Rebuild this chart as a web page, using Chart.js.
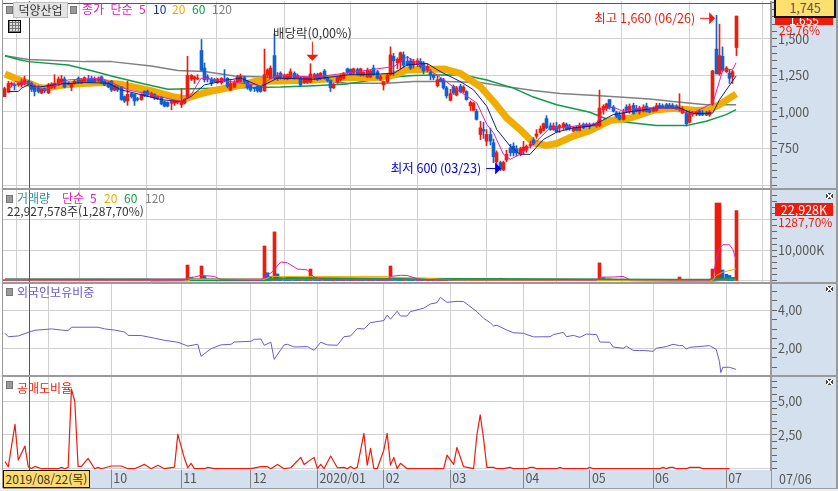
<!DOCTYPE html>
<html lang="ko">
<head>
<meta charset="utf-8">
<title>덕양산업</title>
<script src="https://cdn.jsdelivr.net/npm/chart.js@4"></script>
<style>
  html, body { margin: 0; padding: 0; background: #f0f0f0; overflow: hidden; }
  #stage { position: relative; width: 838px; height: 491px; overflow: hidden; background: #f0f0f0;
           font-family: "Noto Sans CJK KR", "Noto Sans", sans-serif; }
  canvas { position: absolute; left: 0; display: block; background: #fff; }
  .t { position: absolute; white-space: nowrap; font-size: 12px; line-height: 16px; z-index: 5; }
  .rule { position: absolute; background: #9a9a9a; z-index: 4; }
  .sq { position: absolute; width: 5px; height: 6px; background: #999; border: 1px solid #777; z-index: 5; }
  .x { position: absolute; left: 826px; width: 7px; height: 6px; z-index: 5;
       background:
         linear-gradient(45deg, transparent 44%, #fff 44% 56%, transparent 56%),
         linear-gradient(-45deg, transparent 44%, #fff 44% 56%, transparent 56%),
         #444; }
  #grid-icon { position: absolute; left: 8px; top: 20px; width: 11px; height: 11px; border: 1px solid #000; outline: 1px solid #fff; z-index: 5;
    background:
      repeating-linear-gradient(90deg, #777 0 1px, transparent 1px 3px),
      repeating-linear-gradient(0deg, #777 0 1px, transparent 1px 3px),
      #ddd; }
  #name { left: 13px; top: 2px; width: 53px; height: 14px; background: #e4e4e4; border: 1px solid #c0c0c0; text-align: center; color: #333; line-height: 14px; }
  #corner { position: absolute; left: 771px; top: 470px; width: 65px; height: 18px; background: #d5e0ee; z-index: 3; }
  #curBox { left: 774px; top: -2px; width: 58px; height: 16px; background: #ffdf6e; border: 2px solid #111; text-align: center; color: #555; z-index: 8; font-size: 12.5px; }
  #lastBox { left: 775px; top: 16px; width: 58px; height: 9px; background: #ee1c0c; color: #fff; text-align: center; line-height: 7px; z-index: 7; overflow: hidden; }
  #volBox { left: 775px; top: 203px; width: 58px; height: 13px; background: #ee1c0c; color: #fff; text-align: center; line-height: 13px; z-index: 7; font-size: 12.5px; }
  #dateBox { left: 3px; top: 470px; width: 85px; height: 16px; background: #ffdc6a; border: 1px solid #111; color: #333; text-align: center; z-index: 8; line-height: 16px; }
</style>
</head>
<body>
<div id="stage">
  <canvas id="priceChart" width="838" height="187" style="top:1px"></canvas>
  <canvas id="volumeChart" width="838" height="92" style="top:190px"></canvas>
  <canvas id="foreignChart" width="838" height="91" style="top:284px"></canvas>
  <canvas id="shortChart" width="838" height="111" style="top:377px"></canvas>

  <div class="rule" style="left:0;top:0;width:838px;height:1px;background:#fff"></div>
  <div class="rule" style="left:2px;top:0;width:1px;height:488px"></div>
  <div class="rule" style="left:3px;top:188px;width:833px;height:2px"></div>
  <div class="rule" style="left:3px;top:282px;width:833px;height:2px"></div>
  <div class="rule" style="left:3px;top:375px;width:833px;height:2px"></div>
  <div class="rule" style="left:3px;top:488px;width:833px;height:1px"></div>
  <div class="rule" style="left:836px;top:0;width:2px;height:489px"></div>
  <div id="corner"></div>
  <div class="rule" style="left:771px;top:470px;width:1px;height:18px"></div>

  <div class="sq" style="left:6px;top:6px"></div>
  <div class="t" id="name">덕양산업</div>
  <div class="sq" style="left:70px;top:6px"></div>
  <div class="t" style="left:82px;top:1px;color:#e020b0;word-spacing:3px">종가 단순 5</div>
  <div class="t" style="left:153px;top:1px;color:#1030b0">10</div>
  <div class="t" style="left:172px;top:1px;color:#f0ad00">20</div>
  <div class="t" style="left:192px;top:1px;color:#109a48">60</div>
  <div class="t" style="left:212px;top:1px;color:#808080">120</div>
  <div id="grid-icon"></div>

  <div class="sq" style="left:6px;top:195px"></div>
  <div class="t" style="left:17px;top:190px;color:#2e9090">거래량</div>
  <div class="t" style="left:62px;top:190px;color:#e020b0">단순</div>
  <div class="t" style="left:90px;top:190px;color:#e020b0">5</div>
  <div class="t" style="left:104px;top:190px;color:#f0ad00">20</div>
  <div class="t" style="left:124px;top:190px;color:#109a48">60</div>
  <div class="t" style="left:145px;top:190px;color:#808080">120</div>
  <div class="t" style="left:7px;top:203px;color:#333">22,927,578주(1,287,70%)</div>

  <div class="sq" style="left:6px;top:288px"></div>
  <div class="t" style="left:17px;top:284px;color:#6a5acd">외국인보유비중</div>
  <div class="sq" style="left:6px;top:381px"></div>
  <div class="t" style="left:17px;top:380px;color:#ee1c0c">공매도비율</div>

  <div class="x" style="top:193px"></div>
  <div class="x" style="top:286px"></div>
  <div class="x" style="top:379px"></div>

  <div class="t" id="curBox">1,745</div>
  <div class="t" id="lastBox">1,655</div>
  <div class="t" style="left:779px;top:22px;color:#ee1c0c">29,76%</div>
  <div class="t" id="volBox">22,928K</div>
  <div class="t" style="left:778px;top:214px;color:#ee1c0c">1287,70%</div>
  <div class="t" id="dateBox">2019/08/22(목)</div>
  <div class="t" style="left:779px;top:471px;color:#555;font-size:12.5px">07/06</div>
</div>

<script>
// Daily candles, one entry per trading day from 2019/08 to 2020/07/06
const opens = [
  1105,1135,1190,1185,1185,1185,1195,1210,1195,1180,
  1165,1130,1160,1130,1165,1170,1185,1205,1225,1195,
  1170,1195,1230,1200,1210,1225,1230,1225,1215,1240,
  1210,1200,1210,1150,1170,1170,1105,1075,1125,1120,
  1090,1085,1140,1140,1105,1120,1090,1100,1070,1065,
  1060,1060,1065,1050,1060,1100,1225,1225,1225,1420,
  1300,1240,1225,1215,1200,1200,1220,1230,1150,1170,
  1205,1210,1235,1205,1180,1165,1175,1165,1145,1253,
  1230,1385,1230,1265,1230,1225,1235,1265,1235,1235,
  1200,1205,1205,1235,1255,1230,1280,1235,1215,1165,
  1205,1220,1230,1295,1290,1265,1290,1250,1250,1240,
  1240,1300,1275,1225,1185,1205,1255,1380,1335,1343,
  1390,1345,1350,1320,1325,1345,1335,1285,1270,1250,
  1180,1225,1220,1165,1080,1175,1115,1175,1140,1140,
  1043,1011,1005,846,880,801,846,790,660,655,
  605,672,755,767,750,710,733,740,770,810,
  835,860,875,955,905,880,900,892,895,915,
  905,870,890,875,915,915,915,915,908,907,
  1015,1027,1085,1034,995,980,950,1034,1000,1045,
  1020,1000,1005,1040,1015,1005,1010,1045,1043,1050,
  1047,1045,1038,1020,993,993,930,985,985,1005,
  990,990,980,1055,1430,1260,1380,1275,1265,1240,
  1440];
const highs = [
  1170,1210,1205,1195,1200,1225,1245,1215,1205,1185,
  1180,1160,1165,1195,1200,1255,1240,1250,1240,1205,
  1195,1220,1240,1230,1240,1250,1245,1240,1240,1245,
  1215,1205,1215,1185,1180,1175,1110,1210,1130,1125,
  1100,1125,1145,1150,1135,1125,1110,1105,1075,1070,
  1075,1080,1080,1160,1090,1380,1255,1245,1255,1495,
  1335,1255,1235,1230,1230,1235,1290,1235,1215,1215,
  1250,1260,1245,1215,1190,1170,1180,1175,1430,1295,
  1315,1535,1270,1275,1260,1260,1295,1275,1260,1240,
  1240,1240,1330,1265,1265,1270,1290,1240,1220,1195,
  1240,1255,1270,1300,1295,1300,1300,1300,1275,1300,
  1285,1320,1285,1250,1210,1260,1445,1400,1370,1410,
  1410,1380,1365,1360,1365,1365,1345,1325,1290,1260,
  1245,1235,1230,1175,1155,1185,1175,1190,1180,1145,
  1075,1065,1020,937,930,880,890,815,735,665,
  665,740,780,790,770,760,800,775,800,825,
  880,905,925,975,925,925,930,915,930,925,
  915,900,905,925,925,925,925,925,925,1150,
  1050,1060,1085,1045,1005,1000,1020,1050,1055,1060,
  1045,1040,1050,1060,1030,1035,1060,1060,1055,1060,
  1060,1058,1050,1125,1035,1010,1010,1005,1005,1015,
  1010,1005,1010,1285,1660,1600,1445,1310,1290,1285,
  1655];
const lows = [
  1105,1135,1170,1150,1175,1170,1185,1185,1140,1110,
  1130,1125,1130,1125,1160,1160,1180,1190,1165,1185,
  1145,1190,1195,1195,1205,1200,1200,1205,1205,1195,
  1180,1165,1140,1145,1140,1080,1065,1045,1095,1045,
  1075,1080,1105,1105,1100,1085,1085,1050,1035,1035,
  1015,1045,1055,1030,1055,1095,1215,1195,1220,1280,
  1205,1205,1180,1205,1195,1190,1205,1165,1145,1165,
  1200,1205,1195,1155,1140,1140,1135,1135,1140,1235,
  1225,1225,1215,1225,1220,1220,1230,1225,1230,1175,
  1195,1195,1200,1220,1215,1220,1225,1205,1140,1160,
  1195,1210,1225,1260,1255,1255,1250,1245,1245,1235,
  1235,1250,1225,1215,1150,1200,1250,1250,1295,1295,
  1305,1315,1290,1300,1310,1300,1260,1275,1220,1220,
  1170,1205,1155,1095,1075,1120,1110,1130,1130,1080,
  1010,1010,945,812,820,770,775,654,640,600,
  600,660,700,700,700,700,715,725,755,775,
  820,850,870,885,875,875,860,860,880,875,
  875,865,870,870,885,895,885,905,895,900,
  985,1010,1020,1000,960,945,945,995,990,985,
  1000,985,1000,1000,995,1000,1005,1025,1030,1025,
  1030,1025,1020,1005,990,905,925,970,975,975,
  975,975,970,1045,1260,1250,1275,1270,1195,1195,
  1385];
const closes = [
  1160,1195,1195,1180,1195,1205,1220,1190,1155,1140,
  1140,1155,1145,1185,1190,1195,1225,1225,1170,1190,
  1190,1210,1200,1220,1235,1205,1205,1205,1230,1205,
  1185,1170,1150,1180,1150,1085,1075,1120,1105,1075,
  1085,1120,1110,1115,1125,1095,1105,1055,1040,1040,
  1070,1075,1070,1075,1085,1250,1250,1240,1230,1285,
  1220,1225,1195,1210,1225,1230,1215,1175,1195,1205,
  1240,1245,1205,1170,1150,1160,1145,1140,1255,1287,
  1300,1230,1250,1235,1250,1255,1275,1235,1250,1185,
  1235,1235,1260,1255,1220,1265,1230,1215,1165,1190,
  1235,1245,1265,1270,1260,1295,1260,1295,1270,1285,
  1280,1255,1230,1240,1208,1250,1390,1350,1360,1405,
  1320,1320,1300,1345,1350,1310,1280,1310,1253,1235,
  1220,1210,1165,1110,1125,1130,1165,1140,1170,1085,
  1066,1061,950,892,870,846,801,695,722,610,
  655,711,722,722,720,750,760,765,778,785,
  850,885,920,892,880,905,865,907,920,885,
  885,890,875,905,890,900,900,905,925,1027,
  1038,1055,1030,1005,970,950,995,1005,1040,990,
  1005,1027,1034,1005,1000,1025,1043,1027,1032,1027,
  1030,1027,1020,1027,1020,920,990,1000,1000,980,
  980,980,1000,1280,1260,1385,1285,1300,1230,1275,
  1655];

// Price moving averages, sampled at the listed bar numbers
const ma5Bars   = [1,3,7,12,19,29,33,37,44,53,56,59,64,77,80,83,93,117,121,130,135,142,145,147,150,152,155,160,164,167,178,180,183,186,191,202,206,213,216,219,220];
const ma5       = [1151,1208,1197,1151,1219,1231,1192,1151,1118,1072,1118,1231,1219,1179,1231,1253,1237,1310,1377,1253,1170,1061,914,858,711,677,711,801,892,892,921,1016,1034,1005,1027,1027,982,1061,1287,1292,1337];
const ma10Bars  = [1,4,5,7,10,13,17,24,31,35,39,47,53,56,60,67,71,77,82,93,103,113,117,121,127,131,137,141,145,148,152,155,158,162,166,171,176,178,183,189,196,203,207,213,215,220];
const ma10      = [1140,1140,1163,1185,1170,1179,1192,1201,1197,1151,1129,1084,1072,1106,1185,1219,1231,1174,1231,1224,1253,1260,1264,1321,1332,1276,1208,1151,1038,880,767,711,711,812,862,892,903,921,982,1005,1027,1027,989,993,1084,1246];
const ma20Bars  = [0,3,7,10,12,16,21,29,34,39,45,51,54,58,63,69,75,82,93,103,113,117,121,126,132,137,143,147,151,155,159,163,166,171,176,182,188,195,201,208,212,215,218,220];
const ma20      = [1260,1231,1197,1170,1163,1179,1192,1201,1192,1170,1140,1102,1090,1118,1147,1174,1208,1212,1219,1237,1235,1253,1287,1291,1294,1264,1174,1072,959,880,790,772,785,835,873,941,957,1011,1025,1011,1016,1050,1095,1124];
const ma60Bars  = [0,4,7,19,27,32,41,49,63,83,93,103,116,123,131,138,145,153,159,166,176,182,189,196,205,211,217,220];
const ma60      = [1384,1359,1344,1321,1276,1246,1197,1156,1163,1170,1179,1192,1237,1249,1253,1253,1219,1163,1102,1050,998,944,925,907,907,937,982,1016];
const ma120Bars = [0,7,24,32,44,52,60,69,79,83,93,103,115,123,133,143,149,159,167,179,194,201,211,220];
const ma120     = [1384,1359,1344,1344,1314,1283,1276,1246,1237,1219,1219,1197,1197,1208,1208,1201,1179,1147,1127,1111,1088,1072,1050,1050];

// Daily traded volume, in thousands of shares
const volumes = [
  420,510,260,210,180,240,300,210,190,230,
  180,150,170,220,200,260,240,190,230,160,
  180,150,130,170,190,210,160,140,120,180,
  150,170,210,160,140,280,230,420,190,240,
  170,200,160,150,130,120,110,190,170,140,
  230,150,120,330,180,5200,1100,620,410,4900,
  1500,640,380,300,260,240,350,280,230,260,
  300,240,210,180,220,150,170,190,11400,2700,
  1500,16000,2300,1100,700,640,520,480,390,420,
  350,330,3900,900,520,430,470,380,290,420,
  300,280,330,290,260,310,240,350,300,270,
  320,260,240,210,310,280,4900,1200,800,620,
  700,520,430,380,340,360,300,340,280,310,
  420,300,460,520,440,380,410,300,270,480,
  360,420,600,700,520,640,580,720,640,900,
  760,500,420,360,300,320,260,310,240,280,
  300,360,420,480,300,260,280,240,210,230,
  200,190,220,180,200,170,210,160,190,5900,
  1100,640,700,420,330,360,300,280,310,260,
  240,280,220,250,190,210,270,180,170,200,
  190,220,180,1300,420,520,380,260,240,210,
  190,180,220,3900,25400,25400,3600,2200,1800,1100,
  22928];

// Volume moving averages, thousands of shares
const volMa5Bars   = [0,54,55,57,59,63,65,77,78,80,81,83,85,88,91,93,96,115,116,119,121,125,178,179,183,186,188,212,213,214,215,216,218,219,220];
const volMa5       = [320,240,1100,1300,1850,1500,430,250,1400,2600,3700,6200,5900,3900,3600,1200,420,300,1500,1845,1800,420,280,1250,1300,1500,420,300,760,6900,10700,11800,11800,10300,6900];
const volMa20Bars  = [0,7,8,43,55,56,78,80,115,116,125,135,190,212,213,214,216,220];
const volMa20      = [330,330,100,100,60,540,540,1500,1500,1200,1000,320,60,60,320,1800,2900,3900];
const volMa60Bars  = [0,9,43,44,55,78,85,120,200,212,220];
const volMa60      = [430,430,430,200,220,220,1000,750,430,450,1000];
const volMa120Bars = [0,78,90,130,180,200,213,220];
const volMa120     = [540,540,600,580,430,110,110,760];

// Foreign ownership ratio, %
const foreignBars = [0,1,4,7,9,14,17,19,20,28,30,33,36,37,41,45,48,52,55,58,59,62,65,68,69,74,75,77,78,80,81,84,85,87,91,93,95,97,100,102,104,106,108,110,114,115,116,118,119,121,122,125,126,128,130,131,133,136,138,142,144,146,147,148,151,153,156,159,164,165,168,169,171,173,175,178,179,182,183,186,187,189,191,192,195,196,199,201,203,204,205,206,212,214,215,215.4,216,218,220];
const foreignRatio = [2.79,2.61,2.65,2.84,2.95,3.02,2.96,2.93,3.11,3.11,3.02,2.96,2.86,2.68,2.67,2.53,2.42,2.32,2.12,2.21,1.58,1.98,2.18,2.21,2.33,2.37,2.47,2.49,2.16,2.32,1.42,2.18,2.21,2.07,2.09,1.89,2.32,2.18,2.16,2.61,2.65,3.04,3.02,3.35,3.46,3.75,3.53,3.95,3.70,3.70,3.93,4.07,4.11,4.33,4.40,4.68,4.42,4.47,4.46,3.93,3.58,3.35,3.18,3.21,2.96,2.82,2.79,2.60,2.61,2.72,2.84,2.61,2.68,2.58,2.75,2.72,2.33,2.32,2.07,2.00,2.11,1.89,1.88,1.89,1.84,2.00,2.09,2.21,2.14,2.14,1.96,2.05,2.14,1.95,1.30,0.72,1.00,1.00,0.89];

// Short-selling ratio, %
const shortBars = [0,1,3,4,6,7,8,9,11,16,17,18,19,20,21,22,23,25,27,28,29,32,35,37,39,42,44,46,48,51,52,54,55,56,57,60,61,63,74,77,79,80,82,84,86,89,90,93,94,95,96,98,100,102,103,104,105,106,108,109,110,111,112,114,115,116,117,118,119,121,125,132,133,135,136,138,141,142,143,144,145,147,148,150,152,153,157,158,159,160,166,167,168,175,176,177,197,198,199,200,201,202,205,206,209,210,218];
const shortRatio = [0.52,0.15,3.29,0.64,1.68,0.15,0.02,0.17,0,0,0.1,0,0.1,5.9,5.0,0.17,0.17,0.77,0,0.1,0,0.2,0.2,0,0,0.32,0,0.25,0,0.12,2.55,0.77,0.07,0.4,0,0,0.1,0,0,0.15,0.15,0,0.32,0,0.07,0.84,0.32,0.84,0,0.32,0,0.94,0.07,0.1,0,0.17,0,0.1,2.62,0.27,1.51,0,0,1.39,2.62,0.27,0.84,0,0.4,0,0,0,1.01,0.32,1.58,0.15,0,2.5,3.99,2.25,0.1,0.1,0,0,0.1,0,0,0.1,0.1,0,0,0.1,0,0,0.1,0,0,0.1,0,0.1,0.1,0,0,0.1,0.1,0,0];

// Time axis: first trading day of each month
const monthBars   = [13,32,53,74,94,114,134,156,176,195,217];
const monthLabels = ['09','10','11','12','2020/01','02','03','04','05','06','07'];

// Value-axis ticks
const priceTicks   = [500,550,600,650,700,750,800,850,900,950,1000,1050,1100,1150,1200,1250,1300,1350,1400,1450,1500,1550,1600,1650,1700,1750];
const priceGrid    = [500,750,1000,1250,1500];
const priceLabels  = [750,1000,1250,1500];
const volumeTicks  = [0,2000,4000,6000,8000,10000,12000,14000,16000,18000,20000,22000,24000,26000,28000];
const volumeGrid   = [0,10000,20000];
const volumeLabels = [10000];
const foreignTicks = [1,1.5,2,2.5,3,3.5,4,4.5,5];
const foreignGrid  = [2,4];
const shortTicks   = [0,0.5,1,1.5,2,2.5,3,3.5,4,4.5,5,5.5,6,6.5];
const shortGrid    = [0,2.5,5];
const shortLabels  = [2.5,5];

// Markers and cursor
const cursorBar = 7.3;
const cursorPrice = 1745;
const exDivBar = 92.5, exDivPrice = 1350;
const highBar = 214, highPrice = 1660;
const lowBar = 149, lowPrice = 600;

const RED = '#ee1c0c', BLUE = '#1460d0', GRID = '#d0d0d0', AXIS_BG = '#d5e0ee', TXT = '#555';
const FONT = '"Noto Sans CJK KR", "Noto Sans", sans-serif';
const X_MIN = -0.6, X_MAX = 230.5;

const pts = (bars, vals) => bars.map((b, i) => ({ x: b, y: vals[i] }));
const commaNum = v => v.toLocaleString('en-US');
const commaDec = v => v.toFixed(2).replace('.', ',');

// The panels share one fixed frame, so no scale may ask for label overhang
function clearPadding(a) {
  a.paddingTop = a.paddingBottom = a.paddingLeft = a.paddingRight = 0;
}

function lineSet(data, color, width, order, cap) {
  return { type: 'line', data, borderColor: color, borderWidth: width, order,
           pointRadius: 0, tension: 0, borderCapStyle: cap || 'butt', borderJoinStyle: 'round' };
}

function xAxis(showLabels) {
  return {
    type: 'linear', min: X_MIN, max: X_MAX, offset: false, border: { display: false },
    grid: { color: GRID, lineWidth: 1, drawTicks: showLabels, tickLength: 18, tickColor: '#888', tickWidth: 1 },
    ticks: {
      display: showLabels, autoSkip: false, maxRotation: 0, minRotation: 0, align: 'start', padding: -17,
      labelOffset: 2, color: TXT, font: { family: FONT, size: 12.5 },
      callback: v => monthLabels[monthBars.indexOf(v)]
    },
    afterBuildTicks: a => { a.ticks = monthBars.map(v => ({ value: v })); },
    afterFit: a => { a.height = showLabels ? 18 : 0; clearPadding(a); },
    backgroundColor: showLabels ? AXIS_BG : undefined
  };
}

function yAxis(min, max, ticks, gridVals, labelVals, fmt) {
  return {
    type: 'linear', position: 'right', min, max,
    border: { color: '#9a9a9a', width: 2 },
    backgroundColor: AXIS_BG,
    grid: {
      tickLength: 6, tickColor: '#666', tickWidth: 1,
      color: c => (c.tick && gridVals.includes(c.tick.value)) ? GRID : 'rgba(0,0,0,0)'
    },
    ticks: {
      autoSkip: false, padding: 1, color: TXT, font: { family: FONT, size: 12.5 },
      callback: v => labelVals.includes(v) ? fmt(v) : ''
    },
    afterBuildTicks: a => { a.ticks = ticks.map(v => ({ value: v })); },
    afterFit: a => { a.width = 67; clearPadding(a); }
  };
}

function baseOptions(yScale, showLabels) {
  return {
    responsive: false, animation: false, devicePixelRatio: 1,
    layout: { autoPadding: false, padding: { left: 3, right: 0, top: 0, bottom: 0 } },
    plugins: { legend: { display: false }, tooltip: { enabled: false } },
    events: [],
    scales: { x: xAxis(showLabels), y: yScale }
  };
}

// Snap candle and volume bars to whole pixels so their edges stay sharp
const crispBars = {
  id: 'crispBars',
  beforeDatasetsDraw(chart) {
    chart.getSortedVisibleDatasetMetas().forEach(meta => {
      if (meta.type !== 'bar') return;
      meta.data.forEach(el => { el.x = Math.round(el.x - 0.5) + 0.5; });
    });
  }
};

// Vertical cursor shared by all four panels
const cursorLine = {
  id: 'cursorLine',
  afterDatasetsDraw(chart) {
    const { ctx, chartArea: a, scales: { x } } = chart;
    const px = Math.round(x.getPixelForValue(cursorBar)) + 0.5;
    ctx.save();
    ctx.strokeStyle = RED; ctx.lineWidth = 1;
    ctx.beginPath(); ctx.moveTo(px, a.top); ctx.lineTo(px, a.bottom); ctx.stroke();
    ctx.restore();
  }
};

function arrowDown(ctx, x, tipY, len, color) {
  ctx.strokeStyle = color; ctx.fillStyle = color; ctx.lineWidth = 1;
  ctx.beginPath(); ctx.moveTo(x, tipY - len); ctx.lineTo(x, tipY - 5); ctx.stroke();
  ctx.beginPath(); ctx.moveTo(x - 6, tipY - 6); ctx.lineTo(x + 6, tipY - 6); ctx.lineTo(x, tipY); ctx.closePath(); ctx.fill();
}
function arrowRight(ctx, tipX, y, len, color) {
  ctx.strokeStyle = color; ctx.fillStyle = color; ctx.lineWidth = 1;
  ctx.beginPath(); ctx.moveTo(tipX - len, y); ctx.lineTo(tipX - 5, y); ctx.stroke();
  ctx.beginPath(); ctx.moveTo(tipX - 6, y - 6); ctx.lineTo(tipX - 6, y + 6); ctx.lineTo(tipX, y); ctx.closePath(); ctx.fill();
}

// Price-panel annotations: horizontal cursor, ex-dividend flag, period high and low
const priceMarks = {
  id: 'priceMarks',
  afterDatasetsDraw(chart) {
    const { ctx, chartArea: a, scales: { x, y } } = chart;
    ctx.save();
    ctx.strokeStyle = RED; ctx.lineWidth = 1;
    const cy = Math.round(y.getPixelForValue(cursorPrice)) + 0.5;
    ctx.beginPath(); ctx.moveTo(a.left, cy); ctx.lineTo(a.right, cy); ctx.stroke();

    ctx.font = '12.5px ' + FONT; ctx.textBaseline = 'middle';

    const dx = x.getPixelForValue(exDivBar), dy = y.getPixelForValue(exDivPrice);
    arrowDown(ctx, dx, dy, 19, RED);
    ctx.fillStyle = '#333'; ctx.textAlign = 'center';
    ctx.fillText('배당락(0,00%)', dx, dy - 27);

    const hx = x.getPixelForValue(highBar) - 1, hy = y.getPixelForValue(highPrice) + 3;
    arrowRight(ctx, hx, hy, 15, RED);
    ctx.fillStyle = RED; ctx.textAlign = 'right';
    ctx.fillText('최고 1,660 (06/26)', hx - 20, hy);

    const lx = x.getPixelForValue(lowBar) + 1, ly = y.getPixelForValue(lowPrice) - 2;
    arrowRight(ctx, lx, ly, 15, '#0000e0');
    ctx.fillStyle = '#0000e0'; ctx.textAlign = 'right';
    ctx.fillText('최저 600 (03/23)', lx - 20, ly);
    ctx.restore();
  }
};

const bars = opens.map((_, i) => i);
const candleColor = c => {
  const i = c.dataIndex;
  return closes[i] >= opens[i] ? RED : BLUE;
};

new Chart(document.getElementById('priceChart'), {
  type: 'line',
  data: {
    datasets: [
      lineSet(pts(ma120Bars, ma120), '#808080', 1.5, 7),
      lineSet(pts(ma60Bars, ma60), '#109a48', 1.5, 6),
      lineSet(pts(ma20Bars, ma20), '#f0ad00', 7, 5),
      { type: 'bar', grouped: false, order: 4, barThickness: 1, minBarLength: 1, borderWidth: 0,
        data: bars.map(i => ({ x: i, y: [lows[i], highs[i]] })), backgroundColor: candleColor },
      { type: 'bar', grouped: false, order: 3, barThickness: 3, minBarLength: 1, borderWidth: 0,
        data: bars.map(i => ({ x: i, y: [opens[i], closes[i]] })), backgroundColor: candleColor },
      lineSet(pts(ma10Bars, ma10), '#0a1f9a', 1, 2),
      lineSet(pts(ma5Bars, ma5), '#e020b0', 1, 1)
    ]
  },
  options: baseOptions(yAxis(481, 1758, priceTicks, priceGrid, priceLabels, commaNum), false),
  plugins: [crispBars, priceMarks, cursorLine]
});

new Chart(document.getElementById('volumeChart'), {
  type: 'line',
  data: {
    datasets: [
      { type: 'bar', grouped: false, order: 5, barThickness: 3, borderWidth: 0,
        data: bars.map(i => ({ x: i, y: volumes[i] })),
        backgroundColor: c => (c.dataIndex === 0 || volumes[c.dataIndex] >= volumes[c.dataIndex - 1]) ? RED : BLUE },
      lineSet(pts(volMa120Bars, volMa120), '#808080', 2, 4),
      lineSet(pts(volMa60Bars, volMa60), '#109a48', 2, 3),
      lineSet(pts(volMa20Bars, volMa20), '#f0ad00', 1, 2),
      lineSet(pts(volMa5Bars, volMa5), '#e020b0', 1, 1)
    ]
  },
  options: baseOptions(yAxis(-326, 29642, volumeTicks, volumeGrid, volumeLabels, v => commaNum(v) + 'K'), false),
  plugins: [crispBars, cursorLine]
});

new Chart(document.getElementById('foreignChart'), {
  type: 'line',
  data: { datasets: [ lineSet(pts(foreignBars, foreignRatio), '#6a5acd', 1, 1) ] },
  options: baseOptions(yAxis(0.595, 5.384, foreignTicks, foreignGrid, foreignGrid, commaDec), false),
  plugins: [cursorLine]
});

new Chart(document.getElementById('shortChart'), {
  type: 'line',
  data: { datasets: [ lineSet(pts(shortBars, shortRatio), '#ee1c0c', 1.2, 1) ] },
  options: baseOptions(yAxis(-0.096, 6.8, shortTicks, shortGrid, shortLabels, commaDec), true),
  plugins: [cursorLine]
});
</script>
</body>
</html>
